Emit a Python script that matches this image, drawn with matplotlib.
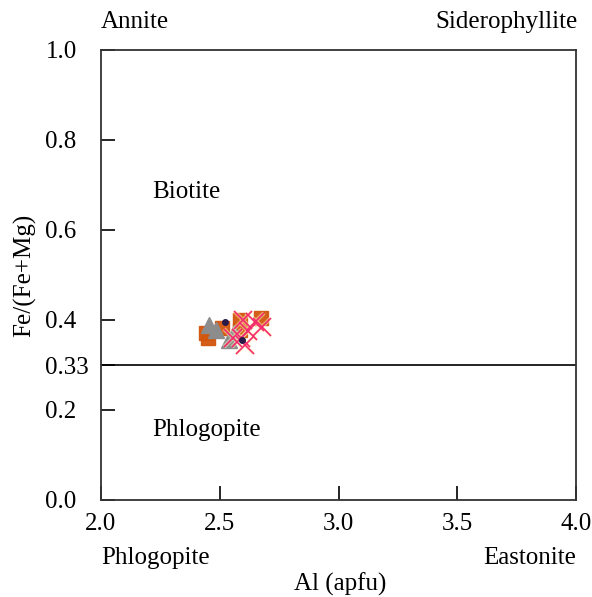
import matplotlib.pyplot as plt
import numpy as np

plt.rcParams['font.family'] = ['Liberation Serif', 'DejaVu Serif']

# biotite analyses, Al (apfu) vs Fe/(Fe+Mg)
sq_al = [2.44, 2.51, 2.585, 2.585, 2.674, 2.45]
sq_fe = [0.371, 0.382, 0.400, 0.378, 0.404, 0.360]
tri_al = [2.455, 2.484, 2.539, 2.56]
tri_fe = [0.389, 0.378, 0.356, 0.372]
cir_al = [2.522, 2.594]
cir_fe = [0.396, 0.356]
x_al = [2.598, 2.648, 2.678, 2.556, 2.606, 2.59, 2.62]
x_fe = [0.400, 0.396, 0.385, 0.360, 0.344, 0.360, 0.375]

yticks = [0.0, 0.2, 0.3, 0.4, 0.6, 0.8, 1.0]
ylabels = ['0.0', '0.2', '0.33', '0.4', '0.6', '0.8', '1.0']
xticks = [2.0, 2.5, 3.0, 3.5, 4.0]
xlabels = ['2.0', '2.5', '3.0', '3.5', '4.0']

W, H = 592, 597
fig = plt.figure(figsize=(W/100, H/100), dpi=100)
ax = fig.add_axes([101/W, 1-500/H, 475/W, 450/H])

ax.plot(sq_al, sq_fe, 's', color='#d2560e', ms=10, mec='#d2560e', alpha=0.95, zorder=3)
ax.plot(tri_al, tri_fe, '^', color='#8c8c8c', ms=12, zorder=3)
ax.plot(x_al, x_fe, 'x', color='#fff6b8', ms=13, mew=3, alpha=0.5, zorder=4)
ax.plot(x_al, x_fe, 'x', color='#f52a6e', ms=13, mew=1.2, zorder=5)
ax.plot(cir_al, cir_fe, 'o', color='#2a1a4a', ms=4, zorder=6)

# boundary biotite / phlogopite (drawn at the 0.33 label)
ax.axhline(0.3, color='black', lw=1.2, zorder=2)

ax.set_xlim(2.0, 4.0)
ax.set_ylim(0.0, 1.0)
ax.set_xticks(xticks)
ax.set_xticklabels(xlabels)
ax.set_yticks(yticks)
ax.set_yticklabels(ylabels, ha='left')
ax.tick_params(direction='in', length=10, width=1.2, labelsize=18, colors='black')
ax.tick_params(axis='x', pad=9)
ax.tick_params(axis='y', pad=40)
for s in ax.spines.values():
    s.set_linewidth(1.3)
    s.set_color('#333333')

fs = 18
ax.text(2.215, 0.684, 'Biotite', fontsize=fs, va='center')
ax.text(2.215, 0.156, 'Phlogopite', fontsize=fs, va='center')
ax.text(2.0, 1.062, 'Annite', fontsize=fs, ha='left', va='center')
ax.text(4.008, 1.062, 'Siderophyllite', fontsize=fs, ha='right', va='center')
ax.text(2.0, -0.129, 'Phlogopite', fontsize=fs, ha='left', va='center')
ax.text(4.0, -0.129, 'Eastonite', fontsize=fs, ha='right', va='center')
fig.text(340/W, 1-584/H, 'Al (apfu)', fontsize=fs, ha='center', va='center')
fig.text(25/W, 1-275/H, 'Fe/(Fe+Mg)', fontsize=fs, ha='center', va='center', rotation=90)

fig.savefig('out.png', dpi=100)
